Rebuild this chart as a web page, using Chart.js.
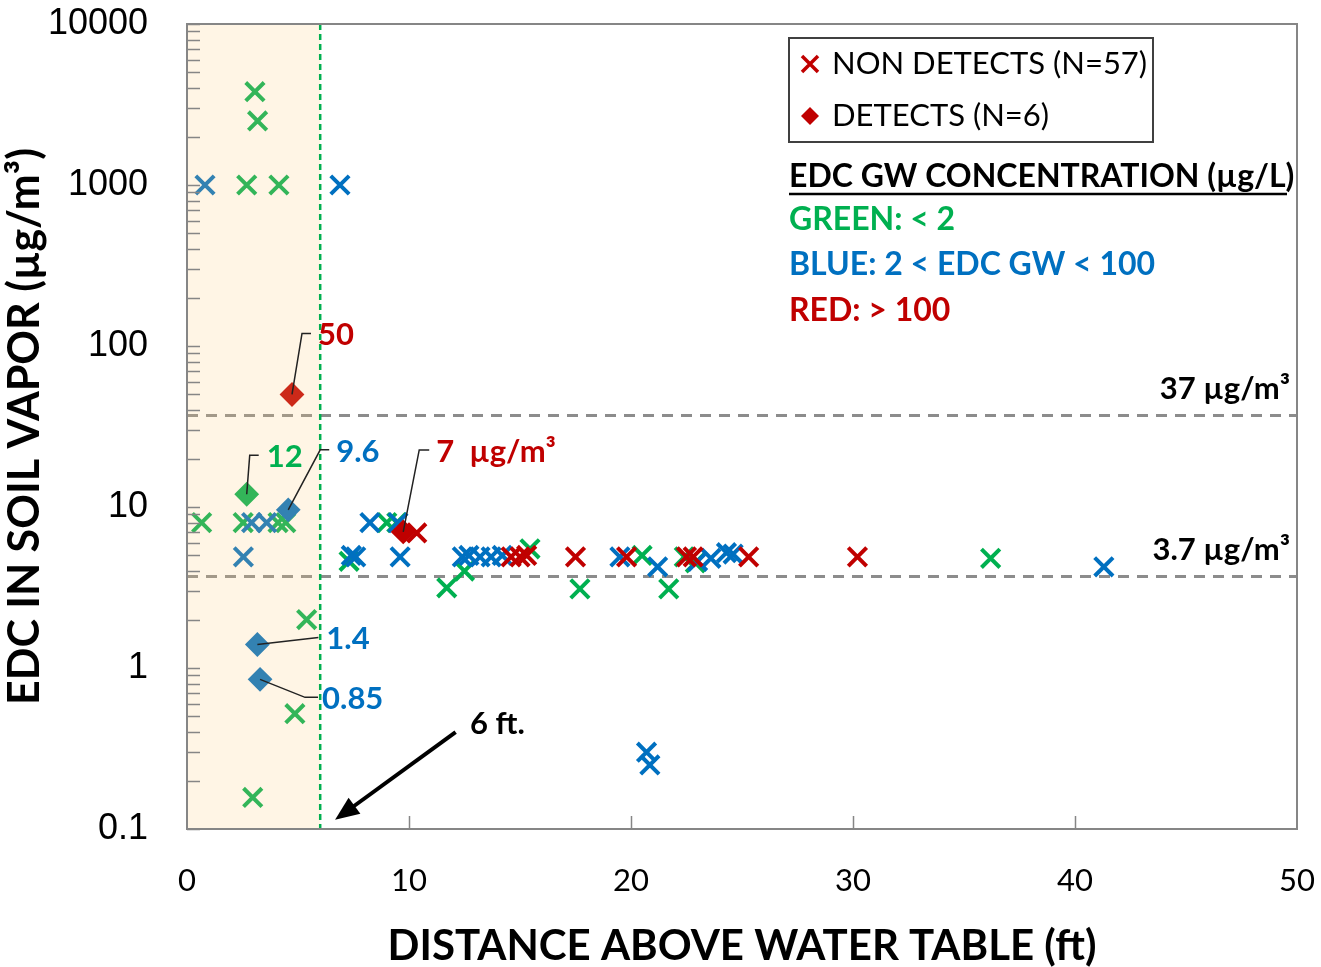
<!DOCTYPE html>
<html>
<head>
<meta charset="utf-8">
<script src="https://cdn.jsdelivr.net/npm/chart.js@4.4.0/dist/chart.umd.min.js"></script>
<style>
  html, body { margin: 0; padding: 0; background: #fff; }
  #wrap { width: 1321px; height: 967px; }
</style>
</head>
<body>
<div id="wrap"><canvas id="chart" width="1321" height="967"></canvas></div>
<script>
  "use strict";

  // ===== Datos =====
  const xTicks = [0, 10, 20, 30, 40, 50];
  const yTicks = [0.1, 1, 10, 100, 1000, 10000];

  // no detectados, por color de concentración en agua subterránea
  const greenNdX = [3.06, 3.18, 2.69, 4.14, 0.66, 2.53, 4.1, 4.45, 9.0, 9.45, 7.3, 11.7, 12.5, 15.45, 17.7, 20.5, 21.7, 22.4, 22.9, 36.2, 5.39, 4.86, 2.96];
  const greenNdY = [3800, 2500, 1000, 1000, 8, 8, 8, 8, 8, 8, 4.6, 3.15, 4.0, 5.5, 3.1, 5.0, 3.1, 4.9, 4.5, 4.8, 2.0, 0.52, 0.157];
  const blueNdX = [0.81, 6.89, 2.91, 3.59, 2.54, 8.24, 9.5, 7.4, 7.6, 9.6, 12.4, 12.7, 13.2, 13.7, 14.2, 19.5, 21.2, 23.0, 23.6, 24.3, 24.6, 41.3, 20.7, 20.85];
  const blueNdY = [1000, 1000, 8, 8, 4.9, 8, 8, 5.0, 4.9, 4.9, 4.9, 5.0, 4.9, 4.9, 5.0, 4.9, 4.25, 4.6, 4.8, 5.2, 5.1, 4.25, 0.30, 0.25];
  const redNdX = [10.35, 14.6, 15.0, 15.3, 17.5, 19.8, 22.5, 22.8, 25.3, 30.2];
  const redNdY = [6.9, 4.9, 4.9, 5.0, 4.9, 4.9, 4.9, 4.9, 4.9, 4.9];

  // detectados
  const greenDetX = [2.69];
  const greenDetY = [12];
  const blueDetX = [4.56, 3.17, 3.29];
  const blueDetY = [9.6, 1.4, 0.85];
  const redDetX = [4.73, 9.74];
  const redDetY = [50, 7];

  const bandEnd = 6; // ft
  const refLevels = [37, 3.7];
  const refLabels = ["37 µg/m³", "3.7 µg/m³"];

  // ===== Estilo =====
  const GREEN = "#00b050",
    BLUE = "#0070c0",
    RED = "#c00000";
  const FONT = 'Lato, "Open Sans", sans-serif';
  const ARIAL = '"Liberation Sans", Arial, sans-serif';

  const pts = (xs, ys) => xs.map((x, i) => ({ x: x, y: ys[i] }));

  function ndSet(label, xs, ys, color) {
    return {
      label: label,
      data: pts(xs, ys),
      pointStyle: "crossRot",
      pointRadius: 13,
      pointBorderWidth: 4,
      borderColor: color,
      backgroundColor: color,
      showLine: false,
    };
  }
  function detSet(label, xs, ys, color) {
    return {
      label: label,
      data: pts(xs, ys),
      pointStyle: "rectRot",
      pointRadius: 11,
      pointBorderWidth: 2,
      borderColor: color,
      backgroundColor: color,
      showLine: false,
    };
  }

  // etiquetas de los detectados: desplazamientos en px desde el punto
  const callouts = [
    { xs: redDetX, ys: redDetY, i: 0, text: "50", color: RED, elbow: [10, -61], end: 19, tx: 26 },
    { xs: greenDetX, ys: greenDetY, i: 0, text: "12", color: GREEN, elbow: [3, -39], end: 12, tx: 20 },
    { xs: blueDetX, ys: blueDetY, i: 0, text: "9.6", color: BLUE, elbow: [32, -60], end: 41, tx: 48 },
    { xs: redDetX, ys: redDetY, i: 1, text: "7  µg/m³", color: RED, elbow: [16, -82], end: 26, tx: 33 },
    { xs: blueDetX, ys: blueDetY, i: 1, text: "1.4", color: BLUE, elbow: [61, -7], end: 61, tx: 69 },
    { xs: blueDetX, ys: blueDetY, i: 2, text: "0.85", color: BLUE, elbow: [45, 18], end: 58, tx: 62 },
  ];

  function text(ctx, s, x, y, color, size, weight, align, family) {
    ctx.save();
    ctx.fillStyle = color;
    ctx.font = (weight || "normal") + " " + size + "px " + (family || FONT);
    ctx.textAlign = align || "left";
    ctx.textBaseline = "middle";
    ctx.fillText(s, x, y);
    ctx.restore();
  }

  const overlay = {
    id: "overlay",
    beforeDatasetsDraw(chart) {
      const { ctx, chartArea: a, scales } = chart;
      ctx.save();
      ctx.strokeStyle = "#8c8c8c";
      ctx.lineWidth = 3;
      ctx.setLineDash([11, 8]);
      refLevels.forEach((v) => {
        const py = scales.y.getPixelForValue(v);
        ctx.beginPath();
        ctx.moveTo(a.left, py);
        ctx.lineTo(a.right, py);
        ctx.stroke();
      });
      ctx.restore();
    },
    afterDatasetsDraw(chart) {
      const { ctx, chartArea: a, scales } = chart;
      const sx = scales.x,
        sy = scales.y;
      ctx.save();

      // franja 0-6 ft (translúcida, encima de los puntos)
      const bx = sx.getPixelForValue(bandEnd);
      ctx.fillStyle = "rgba(255,205,125,0.2)";
      ctx.fillRect(a.left, a.top, bx - a.left, a.bottom - a.top);

      ctx.strokeStyle = GREEN;
      ctx.lineWidth = 2.5;
      ctx.setLineDash([6, 4]);
      ctx.beginPath();
      ctx.moveTo(bx, a.top);
      ctx.lineTo(bx, a.bottom);
      ctx.stroke();
      ctx.setLineDash([]);

      // marco y ticks hacia adentro
      ctx.strokeStyle = "#868686";
      ctx.lineWidth = 2;
      ctx.strokeRect(a.left, a.top, a.right - a.left, a.bottom - a.top);
      ctx.lineWidth = 1.5;
      ctx.beginPath();
      for (let e = -1; e <= 4; e++) {
        for (let k = 1; k <= 9; k++) {
          const v = k * Math.pow(10, e);
          if (v > 10000) break;
          const py = Math.round(sy.getPixelForValue(v)) + 0.5;
          ctx.moveTo(a.left, py);
          ctx.lineTo(a.left + 13, py);
        }
      }
      xTicks.slice(1, -1).forEach((v) => {
        const px = Math.round(sx.getPixelForValue(v)) + 0.5;
        ctx.moveTo(px, a.bottom);
        ctx.lineTo(px, a.bottom - 13);
      });
      ctx.stroke();

      // líneas guía y etiquetas de detectados
      ctx.strokeStyle = "#222";
      ctx.lineWidth = 1.5;
      callouts.forEach((c) => {
        const px = sx.getPixelForValue(c.xs[c.i]);
        const py = sy.getPixelForValue(c.ys[c.i]);
        const ey = py + c.elbow[1];
        ctx.beginPath();
        ctx.moveTo(px, py);
        ctx.lineTo(px + c.elbow[0], ey);
        ctx.lineTo(px + c.end, ey);
        ctx.stroke();
        text(ctx, c.text, px + c.tx, ey + 2, c.color, 31, "bold");
      });

      // niveles de referencia
      refLevels.forEach((v, i) => {
        const py = sy.getPixelForValue(v);
        text(ctx, refLabels[i], a.right - 7, py - 27, "#000", 31, "bold", "right");
      });

      // flecha "6 ft."
      const tx = sx.getPixelForValue(12.1),
        ty = sy.getPixelForValue(0.4);
      const hx = sx.getPixelForValue(6.67),
        hy = sy.getPixelForValue(0.114);
      const ang = Math.atan2(hy - ty, hx - tx);
      ctx.strokeStyle = "#000";
      ctx.fillStyle = "#000";
      ctx.lineWidth = 4;
      ctx.beginPath();
      ctx.moveTo(tx, ty);
      ctx.lineTo(hx - 18 * Math.cos(ang), hy - 18 * Math.sin(ang));
      ctx.stroke();
      ctx.beginPath();
      ctx.moveTo(hx, hy);
      ctx.lineTo(hx - 24 * Math.cos(ang) + 10 * Math.sin(ang), hy - 24 * Math.sin(ang) - 10 * Math.cos(ang));
      ctx.lineTo(hx - 24 * Math.cos(ang) - 10 * Math.sin(ang), hy - 24 * Math.sin(ang) + 10 * Math.cos(ang));
      ctx.closePath();
      ctx.fill();
      text(ctx, "6 ft.", sx.getPixelForValue(12.75), sy.getPixelForValue(0.449), "#000", 31, "bold");

      // leyenda
      ctx.strokeStyle = "#404040";
      ctx.lineWidth = 2;
      ctx.strokeRect(789, 38, 364, 104);
      ctx.strokeStyle = RED;
      ctx.lineWidth = 3.5;
      ctx.beginPath();
      ctx.moveTo(802, 56);
      ctx.lineTo(818, 72);
      ctx.moveTo(818, 56);
      ctx.lineTo(802, 72);
      ctx.stroke();
      ctx.fillStyle = RED;
      ctx.beginPath();
      ctx.moveTo(810, 107);
      ctx.lineTo(819, 116);
      ctx.lineTo(810, 125);
      ctx.lineTo(801, 116);
      ctx.closePath();
      ctx.fill();
      text(ctx, "NON DETECTS (N=57)", 832, 64, "#000", 31);
      text(ctx, "DETECTS (N=6)", 832, 116, "#000", 31);

      text(ctx, "EDC GW CONCENTRATION (µg/L)", 789, 177, "#000", 32, "bold");
      ctx.strokeStyle = "#000";
      ctx.lineWidth = 2.5;
      ctx.beginPath();
      ctx.moveTo(789, 194);
      ctx.lineTo(1287, 194);
      ctx.stroke();
      text(ctx, "GREEN: < 2", 789, 220, GREEN, 32, "bold");
      text(ctx, "BLUE: 2 < EDC GW < 100", 789, 265, BLUE, 32, "bold");
      text(ctx, "RED: > 100", 789, 311, RED, 32, "bold");

      ctx.restore();
    },
  };

  new Chart(document.getElementById("chart"), {
    type: "scatter",
    data: {
      datasets: [
        detSet("Red detects", redDetX, redDetY, RED),
        detSet("Blue detects", blueDetX, blueDetY, BLUE),
        detSet("Green detects", greenDetX, greenDetY, GREEN),
        ndSet("Red non detects", redNdX, redNdY, RED),
        ndSet("Blue non detects", blueNdX, blueNdY, BLUE),
        ndSet("Green non detects", greenNdX, greenNdY, GREEN),
      ],
    },
    options: {
      responsive: false,
      animation: false,
      layout: { autoPadding: false, padding: { top: 24, right: 24, bottom: 0, left: 0 } },
      plugins: { legend: { display: false }, tooltip: { enabled: false } },
      scales: {
        x: {
          type: "linear",
          min: 0,
          max: 50,
          grid: { display: false, drawTicks: false },
          border: { display: false },
          afterBuildTicks: (s) => {
            s.ticks = xTicks.map((v) => ({ value: v }));
          },
          ticks: { padding: 33, color: "#000", font: { family: FONT, size: 31 } },
          title: {
            display: true,
            text: "DISTANCE ABOVE WATER TABLE (ft)",
            color: "#000",
            font: { family: FONT, size: 42, weight: "bold", lineHeight: 1 },
            padding: { top: 0, bottom: 0 },
          },
          afterFit: (s) => {
            s.height = 138;
            s.paddingLeft = 0;
            s.paddingRight = 0;
          },
        },
        y: {
          type: "logarithmic",
          min: 0.1,
          max: 10000,
          grid: { display: false, drawTicks: false },
          border: { display: false },
          afterBuildTicks: (s) => {
            s.ticks = yTicks.map((v) => ({ value: v }));
          },
          ticks: {
            padding: 39,
            color: "#000",
            font: { family: ARIAL, size: 36 },
            callback: (v) => String(v),
          },
          title: {
            display: true,
            text: "EDC IN SOIL VAPOR (µg/m³)",
            color: "#000",
            font: { family: FONT, size: 43, weight: "bold", lineHeight: 1 },
            padding: { top: 4, bottom: 0 },
          },
          afterFit: (s) => {
            s.width = 187;
            s.paddingTop = 0;
            s.paddingBottom = 0;
          },
        },
      },
    },
    plugins: [overlay],
  });
</script>
</body>
</html>
